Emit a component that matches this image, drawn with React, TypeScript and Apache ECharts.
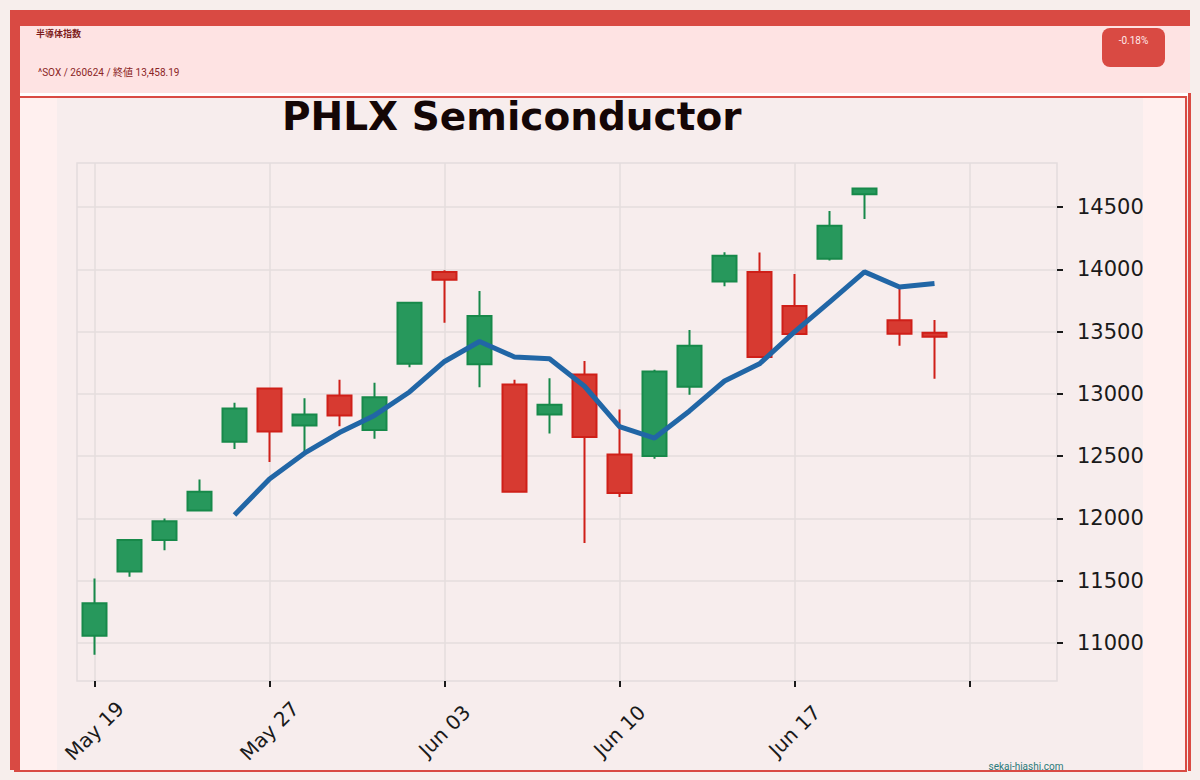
import React, { useEffect, useRef } from "react";
import * as echarts from "echarts";

// ---- data ----
const dates = [
  "2026-05-19", "2026-05-20", "2026-05-21", "2026-05-22", "2026-05-26",
  "2026-05-27", "2026-05-28", "2026-05-29", "2026-06-01", "2026-06-02",
  "2026-06-03", "2026-06-04", "2026-06-05", "2026-06-08", "2026-06-09",
  "2026-06-10", "2026-06-11", "2026-06-12", "2026-06-15", "2026-06-16",
  "2026-06-17", "2026-06-18", "2026-06-22", "2026-06-23", "2026-06-24",
];
const opens = [11058, 11573, 11827, 12064, 12615, 13042, 12745, 12987, 12709, 13241, 13979, 13238, 13075, 12835, 13155, 12513, 12502, 13056, 13902, 13979, 13706, 14084, 14602, 13591, 13491];
const closes = [11320, 11827, 11978, 12215, 12882, 12698, 12835, 12827, 12973, 13731, 13916, 13624, 12215, 12913, 12654, 12204, 13180, 13387, 14109, 13296, 13480, 14349, 14649, 13483, 13458.19];
const lows = [10906, 11532, 11744, 12060, 12557, 12452, 12538, 12739, 12640, 13213, 13571, 13053, 12210, 12681, 11802, 12171, 12480, 12993, 13863, 13290, 13478, 14070, 14404, 13387, 13122];
const highs = [11518, 11830, 12000, 12312, 12929, 13045, 12965, 13114, 13089, 13735, 13993, 13825, 13114, 13125, 13263, 12874, 13194, 13513, 14136, 14134, 13963, 14467, 14652, 13841, 13593];
const maStart = 4;
const maValues = [12028, 12317, 12524, 12689, 12827, 13015, 13260, 13420, 13296, 13282, 13061, 12736, 12645, 12863, 13103, 13241, 13497, 13737, 13979, 13858, 13886];
const xTickIdx = [0, 5, 10, 15, 20, 25];
const xLabelIdx = [0, 5, 10, 15, 20];
const xLabels = ["May 19", "May 27", "Jun 03", "Jun 10", "Jun 17"];
const yTicks = [11000, 11500, 12000, 12500, 13000, 13500, 14000, 14500];

const titleText = "PHLX Semiconductor";
const headerTitle = "半導体指数";
const headerSub = "^SOX / 260624 / 終値 13,458.19";
const changeText = "-0.18%";
const siteText = "sekai-hiashi.com";

const RED = "#d94a43";

export default function App() {
  const ref = useRef<HTMLDivElement>(null);

  useEffect(() => {
    if (!ref.current) return;
    const chart = echarts.init(ref.current, undefined, { renderer: "svg" });
    const candleData = dates.map((_, i) => [i, opens[i], closes[i], lows[i], highs[i]]);
    const maData = maValues.map((v, i) => [i + maStart, v]);
    chart.setOption({
      animation: false,
      backgroundColor: "transparent",
      title: {
        text: titleText,
        left: 282,
        top: 97,
        padding: 0,
        textStyle: { fontFamily: "DejaVu Sans", fontWeight: "bold", fontSize: 39, color: "#140606" },
      },
      grid: {
        left: 77, top: 163, width: 980, height: 518,
        show: true, borderColor: "#e4dcdd", borderWidth: 1.5, backgroundColor: "transparent",
      },
      xAxis: {
        type: "value",
        min: -0.5,
        max: 27.5,
        position: "bottom",
        axisLine: { show: false, onZero: false },
        axisTick: { show: true, customValues: xTickIdx, length: 6, lineStyle: { color: "#1a1a1a", width: 2 } },
        axisLabel: {
          customValues: xLabelIdx,
          formatter: (v: number) => {
            const k = xLabelIdx.indexOf(Math.round(v));
            return k >= 0 ? xLabels[k] : "";
          },
          rotate: 45,
          align: "center",
          verticalAlign: "middle",
          margin: 50,
          fontSize: 20,
          fontFamily: "DejaVu Sans",
          color: "#1a1a1a",
        },
        splitLine: { show: true, lineStyle: { color: "#e4dcdd", width: 1.5 } },
      },
      yAxis: {
        type: "value",
        position: "right",
        min: 10695,
        max: 14853,
        scale: true,
        axisLine: { show: false, onZero: false },
        axisTick: { show: true, customValues: yTicks, length: 6, lineStyle: { color: "#1a1a1a", width: 2 } },
        axisLabel: {
          customValues: yTicks,
          formatter: (v: number) => String(Math.round(v)),
          margin: 20,
          fontSize: 21,
          fontFamily: "DejaVu Sans",
          color: "#1a1a1a",
        },
        splitLine: { show: true, lineStyle: { color: "#e4dcdd", width: 1.5 } },
      },
      series: [
        {
          type: "candlestick",
          data: candleData,
          barWidth: 24,
          itemStyle: {
            color: "#27985c",
            color0: "#d73a31",
            borderColor: "#17894a",
            borderColor0: "#cf1f18",
            borderWidth: 2,
          },
          emphasis: { disabled: true },
        },
        {
          type: "line",
          data: maData,
          showSymbol: false,
          symbol: "none",
          lineStyle: { color: "#2166a6", width: 5 },
          z: 5,
        },
      ],
      graphic: [
        {
          type: "text", x: 36, y: 34,
          style: { text: headerTitle, fontFamily: "Roboto, 'Noto Sans CJK JP'", fontSize: 9, fontWeight: "bold", fill: "#7d1c1c", verticalAlign: "middle" },
        },
        {
          type: "text", x: 38, y: 72,
          style: { text: headerSub, fontFamily: "Roboto, 'Noto Sans CJK JP'", fontSize: 10, fill: "#8b2525", verticalAlign: "middle" },
        },
        {
          type: "rect", shape: { x: 1102, y: 28, width: 63, height: 39, r: 8 },
          style: { fill: RED },
        },
        {
          type: "text", x: 1133.5, y: 40,
          style: { text: changeText, fontFamily: "Roboto", fontSize: 10, fill: "#ffe9e9", align: "center", verticalAlign: "middle" },
        },
        {
          type: "text", x: 1026, y: 766,
          style: { text: siteText, fontFamily: "Roboto", fontSize: 10, fill: "#2b7a7a", align: "center", verticalAlign: "middle" },
        },
      ],
    });
    return () => chart.dispose();
  }, []);

  const abs = (l: number, t: number, w: number, h: number, bg: string, extra: any = {}) => ({
    position: "absolute" as const, left: l, top: t, width: w, height: h, background: bg, ...extra,
  });

  return (
    <div style={{ position: "fixed", left: 0, top: 0, width: 1200, height: 780, background: "#f7eeec", overflow: "hidden" }}>
      <div style={abs(20, 96, 1167, 676, "#fff0ef")} />
      <div style={abs(57, 98, 1086, 672, "#f7eded")} />
      <div style={abs(10, 10, 10, 760, RED)} />
      <div style={abs(10, 10, 1180, 16, RED)} />
      <div style={abs(20, 26, 1170, 67, "#fee3e3")} />
      <div style={abs(20, 93, 1170, 3, "#ffffff")} />
      <div style={abs(20, 96, 1167, 2, RED)} />
      <div style={abs(1185, 96, 2, 676, RED)} />
      <div style={abs(14, 770, 1173, 2, RED)} />
      <div style={abs(1188, 93, 3, 678, RED)} />
      <div ref={ref} style={{ position: "absolute", left: 0, top: 0, width: 1200, height: 780 }} />
    </div>
  );
}
